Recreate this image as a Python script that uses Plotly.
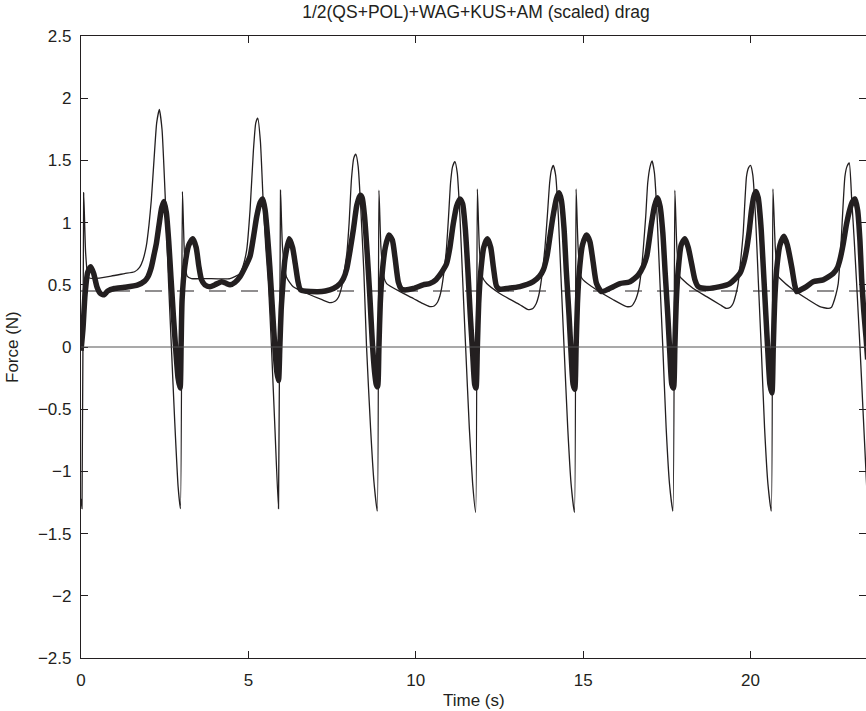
import plotly.graph_objects as go

# ---------------- data ----------------
title_text = "1/2(QS+POL)+WAG+KUS+AM (scaled) drag"
x_label = "Time (s)"
y_label = "Force (N)"

x_tick_vals = [0, 5, 10, 15, 20]
x_tick_text = ["0", "5", "10", "15", "20"]
y_tick_vals = [-2.5, -2, -1.5, -1, -0.5, 0, 0.5, 1, 1.5, 2, 2.5]
y_tick_text = ["\u22122.5", "\u22122", "\u22121.5", "\u22121", "\u22120.5", "0",
               "0.5", "1", "1.5", "2", "2.5"]

mean_level = 0.45
zero_level = 0.0

# thin curve (model)
thin_t = [0.00, 0.03, 0.08, 0.14, 0.22, 0.40, 0.90, 1.30, 1.60, 1.75, 1.85, 1.95, 2.03, 2.10, 2.18, 2.26, 2.34, 2.42, 2.52, 2.61, 2.70, 2.80, 2.90, 2.97,
          3.03, 3.09, 3.17, 3.30, 3.75, 4.45, 4.75, 4.85, 4.95, 5.05, 5.15, 5.22, 5.28, 5.36, 5.44, 5.52, 5.60, 5.69, 5.80, 5.90,
          5.96, 6.02, 6.14, 6.34, 6.84, 7.20, 7.44, 7.60, 7.69, 7.79, 7.87, 7.94, 8.01, 8.08, 8.15, 8.21, 8.28, 8.36, 8.45, 8.53, 8.65, 8.75, 8.85,
          8.90, 8.96, 9.05, 9.13, 9.53, 9.93, 10.20, 10.42, 10.55, 10.65, 10.72, 10.77, 10.85, 10.92, 10.98, 11.04, 11.10, 11.17, 11.24, 11.32, 11.40, 11.49, 11.60, 11.70, 11.79,
          11.84, 11.90, 11.98, 12.12, 12.51, 12.80, 13.11, 13.36, 13.50, 13.60, 13.67, 13.72, 13.79, 13.86, 13.93, 14.00, 14.05, 14.11, 14.18, 14.26, 14.34, 14.43, 14.54, 14.64, 14.74,
          14.79, 14.85, 14.93, 15.00, 15.40, 15.90, 16.30, 16.45, 16.55, 16.62, 16.67, 16.74, 16.80, 16.87, 16.93, 17.00, 17.06, 17.13, 17.21, 17.29, 17.38, 17.48, 17.58, 17.68,
          17.74, 17.80, 17.88, 17.94, 18.29, 18.69, 19.09, 19.28, 19.40, 19.48, 19.56, 19.63, 19.70, 19.78, 19.88, 19.94, 20.00, 20.07, 20.15, 20.23, 20.32, 20.42, 20.52, 20.62,
          20.67, 20.74, 20.82, 20.88, 21.27, 21.67, 22.07, 22.32, 22.42, 22.47, 22.55, 22.62, 22.67, 22.72, 22.82, 22.88, 22.95, 23.02, 23.10, 23.17, 23.27, 23.37, 23.47]
thin_f = [-1.22, -1.30, 1.24, 0.75, 0.56, 0.55, 0.57, 0.59, 0.605, 0.64, 0.70, 0.81, 0.98, 1.18, 1.50, 1.80, 1.91, 1.75, 1.18, 0.55, 0.00, -0.60, -1.12, -1.30,
          1.25, 0.75, 0.57, 0.55, 0.55, 0.55, 0.59, 0.66, 0.78, 1.10, 1.58, 1.80, 1.84, 1.65, 1.18, 0.80, 0.50, 0.00, -0.70, -1.30,
          1.26, 0.80, 0.56, 0.485, 0.42, 0.38, 0.356, 0.37, 0.40, 0.485, 0.62, 0.75, 1.00, 1.35, 1.52, 1.55, 1.45, 1.10, 0.60, 0.00, -0.65, -1.08, -1.32,
          1.26, 0.80, 0.56, 0.51, 0.445, 0.39, 0.35, 0.325, 0.33, 0.36, 0.41, 0.47, 0.62, 0.80, 1.05, 1.32, 1.45, 1.49, 1.40, 1.05, 0.55, 0.00, -0.65, -1.10, -1.33,
          1.27, 0.80, 0.57, 0.51, 0.43, 0.385, 0.34, 0.30, 0.31, 0.35, 0.41, 0.48, 0.62, 0.80, 1.05, 1.32, 1.42, 1.46, 1.38, 1.05, 0.55, 0.00, -0.65, -1.10, -1.33,
          1.27, 0.80, 0.57, 0.54, 0.46, 0.38, 0.325, 0.33, 0.37, 0.42, 0.48, 0.62, 0.80, 1.05, 1.32, 1.45, 1.495, 1.40, 1.05, 0.55, 0.00, -0.65, -1.10, -1.32,
          1.26, 0.80, 0.57, 0.55, 0.47, 0.405, 0.34, 0.31, 0.32, 0.35, 0.42, 0.51, 0.68, 0.91, 1.37, 1.44, 1.46, 1.38, 1.05, 0.55, 0.00, -0.65, -1.10, -1.32,
          1.27, 0.80, 0.57, 0.55, 0.46, 0.39, 0.325, 0.31, 0.32, 0.35, 0.42, 0.51, 0.68, 0.91, 1.37, 1.45, 1.48, 1.20, 0.85, 0.51, 0.00, -0.56, -1.12]

# thick curve (measured)
thick_t = [0.00, 0.06, 0.12, 0.20, 0.29, 0.38, 0.48, 0.58, 0.69, 0.80, 1.00, 1.30, 1.70, 1.90, 2.00, 2.10, 2.18, 2.25, 2.33, 2.41, 2.48, 2.55, 2.62, 2.69, 2.76, 2.83, 2.90, 2.96,
           2.99, 3.02, 3.10, 3.22, 3.34, 3.44, 3.52, 3.60, 3.70, 3.85, 4.00, 4.20, 4.35, 4.45, 4.60, 4.75, 4.90, 5.05, 5.15, 5.25, 5.35, 5.43, 5.50, 5.57, 5.64, 5.72, 5.79, 5.85, 5.90,
           5.94, 5.98, 6.03, 6.09, 6.22, 6.32, 6.40, 6.48, 6.56, 7.04, 7.30, 7.54, 7.74, 7.84, 7.94, 8.04, 8.14, 8.24, 8.34, 8.40, 8.47, 8.55, 8.63, 8.70, 8.77, 8.82, 8.86,
           8.90, 8.94, 9.00, 9.09, 9.20, 9.30, 9.38, 9.48, 9.56, 9.63, 9.93, 10.22, 10.42, 10.60, 10.72, 10.82, 10.92, 11.02, 11.12, 11.22, 11.32, 11.40, 11.48, 11.56, 11.63, 11.70, 11.76, 11.80,
           11.84, 11.88, 11.94, 12.03, 12.14, 12.24, 12.32, 12.41, 12.50, 12.71, 13.11, 13.51, 13.70, 13.81, 13.92, 14.01, 14.10, 14.20, 14.28, 14.35, 14.43, 14.50, 14.58, 14.64, 14.70, 14.75,
           14.79, 14.83, 14.89, 14.98, 15.10, 15.20, 15.30, 15.40, 15.55, 15.90, 16.10, 16.40, 16.65, 16.80, 16.90, 17.04, 17.13, 17.22, 17.30, 17.38, 17.45, 17.53, 17.59, 17.65, 17.70,
           17.74, 17.78, 17.84, 17.93, 18.04, 18.14, 18.24, 18.34, 18.44, 18.69, 19.09, 19.38, 19.68, 19.80, 19.88, 19.96, 20.03, 20.10, 20.16, 20.23, 20.31, 20.38, 20.46, 20.52, 20.58, 20.64,
           20.68, 20.72, 20.78, 20.88, 21.00, 21.10, 21.23, 21.32, 21.38, 21.50, 21.67, 21.87, 22.17, 22.47, 22.60, 22.67, 22.77, 22.87, 22.97, 23.05, 23.12, 23.20, 23.27, 23.32, 23.38, 23.45, 23.50]
thick_f = [-0.03, 0.15, 0.42, 0.60, 0.645, 0.59, 0.48, 0.43, 0.42, 0.45, 0.47, 0.48, 0.50, 0.53, 0.565, 0.64, 0.74, 0.83, 0.98, 1.12, 1.17, 1.08, 0.85, 0.55, 0.25, -0.02, -0.25, -0.33,
           0.00, 0.38, 0.645, 0.82, 0.87, 0.80, 0.65, 0.54, 0.50, 0.485, 0.50, 0.525, 0.51, 0.50, 0.52, 0.565, 0.64, 0.73, 0.88, 1.05, 1.16, 1.19, 1.10, 0.90, 0.645, 0.30, 0.00, -0.20, -0.27,
           0.00, 0.30, 0.50, 0.70, 0.87, 0.80, 0.67, 0.53, 0.46, 0.445, 0.45, 0.47, 0.51, 0.55, 0.63, 0.78, 0.95, 1.14, 1.22, 1.20, 1.05, 0.75, 0.40, 0.05, -0.20, -0.30, -0.32,
           0.00, 0.35, 0.60, 0.80, 0.90, 0.86, 0.72, 0.52, 0.47, 0.46, 0.47, 0.50, 0.51, 0.54, 0.58, 0.62, 0.67, 0.80, 0.99, 1.13, 1.19, 1.15, 0.95, 0.60, 0.25, -0.05, -0.30, -0.33,
           0.00, 0.35, 0.60, 0.80, 0.87, 0.80, 0.64, 0.49, 0.465, 0.47, 0.485, 0.525, 0.57, 0.62, 0.73, 0.89, 1.05, 1.19, 1.24, 1.18, 0.95, 0.60, 0.25, -0.05, -0.30, -0.34,
           0.00, 0.35, 0.62, 0.82, 0.90, 0.85, 0.68, 0.51, 0.445, 0.485, 0.51, 0.525, 0.58, 0.65, 0.73, 0.99, 1.13, 1.20, 1.13, 0.92, 0.60, 0.25, -0.05, -0.30, -0.33,
           0.00, 0.35, 0.62, 0.82, 0.87, 0.80, 0.67, 0.54, 0.485, 0.47, 0.485, 0.51, 0.59, 0.68, 0.78, 0.93, 1.10, 1.21, 1.25, 1.20, 0.98, 0.65, 0.25, -0.05, -0.30, -0.37,
           0.00, 0.35, 0.62, 0.82, 0.89, 0.82, 0.645, 0.50, 0.445, 0.46, 0.485, 0.525, 0.54, 0.59, 0.64, 0.70, 0.83, 0.99, 1.11, 1.17, 1.19, 1.10, 0.85, 0.55, 0.30, 0.08, -0.10]

x_range = [0, 23.45]
y_range = [-2.5, 2.5]

# ---------------- styling ----------------
ink = "#231f20"
font_family = "Liberation Sans, Arial, Helvetica, sans-serif"
fs = 17

fig = go.Figure()
fig.add_trace(go.Scatter(x=thin_t, y=thin_f, mode="lines",
                         line=dict(color=ink, width=1.3, shape="spline", smoothing=0.5),
                         showlegend=False))
fig.add_trace(go.Scatter(x=thick_t, y=thick_f, mode="lines",
                         line=dict(color=ink, width=5.5, shape="spline", smoothing=0.6),
                         showlegend=False))
# invisible trace to keep right-side tick axis alive
fig.add_trace(go.Scatter(x=[], y=[], yaxis="y2", showlegend=False))

fig.add_hline(y=zero_level, line=dict(color="#555555", width=1.2))
fig.add_hline(y=mean_level, line=dict(color=ink, width=1.1, dash="17px,15px"))

axis_common = dict(showgrid=False, zeroline=False, ticks="inside", ticklen=7,
                   tickwidth=1, tickcolor=ink, linecolor=ink, linewidth=1.3,
                   tickfont=dict(family=font_family, size=fs, color=ink))

fig.update_layout(
    width=866, height=711,
    margin=dict(l=81, r=0, t=36, b=53),
    paper_bgcolor="white", plot_bgcolor="white",
    showlegend=False,
    font=dict(family=font_family, size=fs, color=ink),
    title=dict(text=title_text, x=476 / 866, xref="container", xanchor="center",
               y=1 - 12 / 711, yref="container", yanchor="middle",
               font=dict(family=font_family, size=17.5, color=ink)),
    xaxis=dict(range=x_range, tickvals=x_tick_vals, ticktext=x_tick_text,
               showline=True, mirror="ticks", ticklabelstandoff=6, **axis_common),
    yaxis=dict(range=y_range, tickvals=y_tick_vals, ticktext=y_tick_text,
               showline=True, ticklabelstandoff=5, **axis_common),
    yaxis2=dict(range=y_range, tickvals=y_tick_vals, overlaying="y", side="right",
                showticklabels=False, showgrid=False, zeroline=False, showline=False,
                ticks="inside", ticklen=7, tickwidth=1, tickcolor=ink),
    annotations=[
        dict(text=x_label, xref="paper", yref="paper", x=0.5, y=(658 - 700) / 622,
             xanchor="center", yanchor="middle", showarrow=False,
             font=dict(family=font_family, size=fs, color=ink)),
        dict(text=y_label, xref="paper", yref="paper", x=(12 - 81) / 785, y=0.5,
             xanchor="center", yanchor="middle", textangle=-90, showarrow=False,
             font=dict(family=font_family, size=fs, color=ink)),
    ],
)

fig.write_html("out.html")
